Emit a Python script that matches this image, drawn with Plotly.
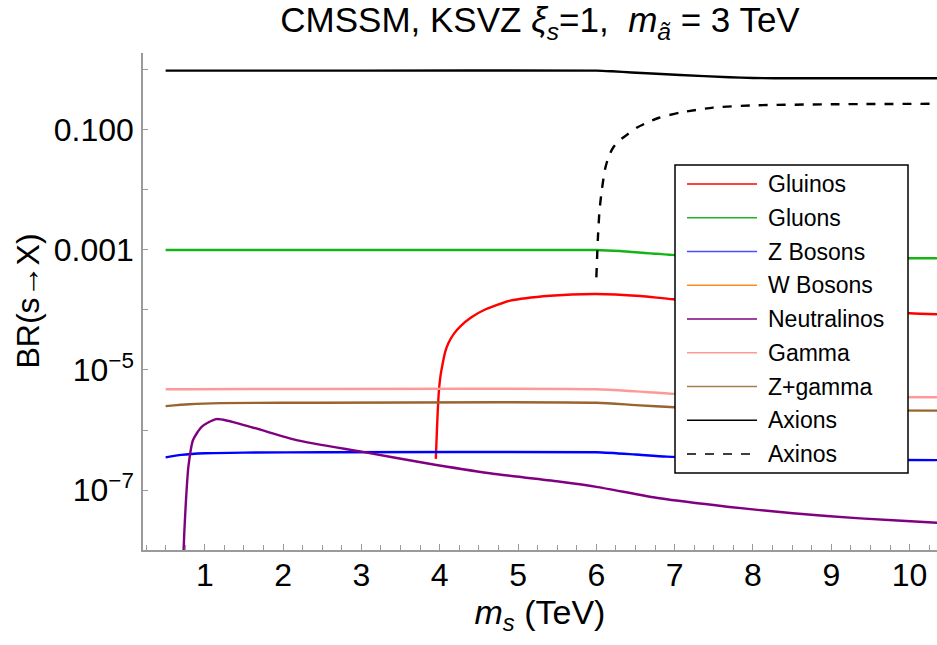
import plotly.graph_objects as go

# ---- series data: m_s (TeV) vs branching ratio ----
axions_x = [0.5, 3.0, 6.0, 6.2, 6.45, 7.07, 7.7, 8.0, 8.5, 10.5]
axions_y = [0.975, 0.975, 0.975, 0.95, 0.91, 0.826, 0.756, 0.735, 0.727, 0.727]

axinos_x = [6.0, 6.02, 6.04, 6.07, 6.11, 6.16, 6.22, 6.3, 6.4, 6.52, 6.66, 6.8, 7.07, 7.49, 8.0, 9.0, 10.5]
axinos_y = [3.5e-4, 1.6e-3, 4.5e-3, 0.01, 0.022, 0.037, 0.052, 0.068, 0.085, 0.11, 0.135, 0.16, 0.195, 0.236,
            0.257, 0.268, 0.274]

gluons_x = [0.5, 6.0, 6.3, 6.96, 8.0, 9.0, 9.93, 10.5]
gluons_y = [1.0e-3, 1.0e-3, 9.6e-4, 8.3e-4, 7.7e-4, 7.4e-4, 7.3e-4, 7.3e-4]

gluinos_x = [3.95, 3.97, 3.99, 4.01, 4.03, 4.07, 4.11, 4.18, 4.26, 4.4, 4.58, 4.9, 5.41, 6.0, 6.56, 6.98, 8.0, 9.0, 10.0, 10.5]
gluinos_y = [3.3e-7, 1.5e-6, 4.6e-6, 8e-6, 1.13e-5, 2.0e-5, 2.8e-5, 4.0e-5, 5.3e-5, 7.5e-5, 1.02e-4, 1.43e-4,
             1.73e-4, 1.85e-4, 1.71e-4, 1.51e-4, 1.26e-4, 1.04e-4, 8.8e-5, 8.4e-5]

zbos_x = [0.5, 0.7, 1.0, 1.5, 2.5, 6.0, 6.5, 6.9, 8.0, 9.9, 10.5]
zbos_y = [3.5e-7, 3.85e-7, 4.1e-7, 4.2e-7, 4.25e-7, 4.25e-7, 3.9e-7, 3.6e-7, 3.35e-7, 3.16e-7, 3.15e-7]

gamma_x = [0.5, 6.0, 6.5, 7.0, 8.0, 9.0, 10.5]
gamma_y = [4.77e-6, 4.77e-6, 4.4e-6, 4.0e-6, 3.7e-6, 3.55e-6, 3.5e-6]

zgamma_x = [0.5, 0.8, 1.2, 2.0, 6.0, 6.5, 7.0, 8.0, 9.0, 10.5]
zgamma_y = [2.5e-6, 2.68e-6, 2.8e-6, 2.85e-6, 2.85e-6, 2.6e-6, 2.4e-6, 2.2e-6, 2.12e-6, 2.1e-6]

neutralinos_x = [0.72, 0.738, 0.76, 0.79, 0.85, 0.96, 1.15, 1.58, 2.17, 3.0, 3.83, 4.64, 5.54, 6.0,
                 6.81, 7.67, 8.51, 9.37, 10.35, 10.5]
neutralinos_y = [5e-9, 1.9e-8, 6.8e-8, 2.4e-7, 6.8e-7, 1.13e-6, 1.52e-6, 1.13e-6, 6.8e-7, 4.35e-7, 2.79e-7,
                 1.9e-7, 1.37e-7, 1.13e-7, 7.27e-8, 5.27e-8, 4.09e-8, 3.37e-8, 2.85e-8, 2.8e-8]

# legend entries (W bosons has no curve inside the plotted range)
legend_names = ["Gluinos", "Gluons", "Z Bosons", "W Bosons", "Neutralinos", "Gamma", "Z+gamma", "Axions", "Axinos"]
legend_colors = ["#ff0000", "#1fb31f", "#4d4dff", "#ff8c1a", "#800080", "#ff9999", "#a67c52", "#000000", "#000000"]
legend_dash = ["solid"] * 8 + ["dash"]

y_tickvals = [1, 0.1, 0.01, 0.001, 1e-4, 1e-5, 1e-6, 1e-7]
y_ticktext = ["", "0.100", "", "0.001", "", "10<sup>−5</sup>", "", "10<sup>−7</sup>"]

FONT = "Liberation Sans, Arial, Helvetica, sans-serif"
W, H = 937, 645
L, R, T, B = 143, 0, 53, 95
XR = [0.211, 10.35]
YR = [-8.0, 0.283]

curves = [
    (gluinos_x, gluinos_y, "#ff0000", "solid"),
    (gluons_x, gluons_y, "#14b414", "solid"),
    (zbos_x, zbos_y, "#0000ff", "solid"),
    (neutralinos_x, neutralinos_y, "#800080", "solid"),
    (gamma_x, gamma_y, "#ff9999", "solid"),
    (zgamma_x, zgamma_y, "#99642f", "solid"),
    (axions_x, axions_y, "#000000", "solid"),
    (axinos_x, axinos_y, "#000000", "dash"),
]

fig = go.Figure()
for xs, ys, col, dash in curves:
    fig.add_trace(go.Scatter(
        x=xs, y=ys, mode="lines", showlegend=False,
        line=dict(color=col, width=2.4, dash=dash, shape="spline", smoothing=0.6),
    ))

axis_gray = "#9a9a9a"
fig.update_layout(
    width=W, height=H,
    margin=dict(l=L, r=R, t=T, b=B),
    plot_bgcolor="white", paper_bgcolor="white",
    font=dict(family=FONT, size=32, color="black"),
    title=dict(
        text="CMSSM, KSVZ <i>ξ</i><sub><i>s</i></sub>=1,  <i>m</i><sub><i>ã</i></sub> = 3 TeV",
        x=0.5, xref="paper", y=1 - 20 / H, yref="container", xanchor="center", yanchor="middle",
        font=dict(size=35),
    ),
    xaxis=dict(
        range=XR, showgrid=False, zeroline=False,
        showline=True, linecolor=axis_gray, linewidth=1.5,
        ticks="inside", ticklen=6, tickwidth=1, tickcolor=axis_gray,
        tickmode="linear", tick0=0, dtick=1,
        minor=dict(ticks="inside", ticklen=5, tickcolor=axis_gray, tickmode="linear", tick0=0, dtick=0.25),
        tickfont=dict(size=32), ticklabelstandoff=-4,
        title=dict(text="<i>m</i><sub><i>s</i></sub> (TeV)", font=dict(size=34), standoff=2),
    ),
    xaxis2=dict(
        range=XR, overlaying="x", side="top", anchor="y", showgrid=False, zeroline=False,
        showline=True, linecolor=axis_gray, linewidth=1.5,
        ticks="inside", ticklen=8, tickcolor=axis_gray, showticklabels=False,
        tickmode="linear", tick0=0, dtick=2,
        minor=dict(ticks="inside", ticklen=5, tickcolor=axis_gray, tickmode="linear", tick0=0, dtick=0.5),
    ),
    yaxis=dict(
        type="log", range=YR, showgrid=False, zeroline=False,
        showline=True, linecolor=axis_gray, linewidth=1.5,
        ticks="inside", ticklen=5, tickcolor=axis_gray,
        tickmode="array", tickvals=y_tickvals, ticktext=y_ticktext,
        tickfont=dict(size=32), ticklabelstandoff=1,
    ),
)

# y-axis label
fig.add_annotation(
    text="BR(s→X)", textangle=-90, showarrow=False,
    xref="paper", yref="paper", x=(27 - L) / (W - L - R), y=0.5,
    xanchor="center", yanchor="middle", font=dict(size=32),
)

# legend box drawn in pixel geometry converted to paper coordinates
pw, ph = W - L - R, H - T - B


def px(xp):
    return (xp - L) / pw


def py(yp):
    return (H - B - yp) / ph


box_l, box_t, box_r, box_b = 675, 165, 908, 473
fig.add_shape(type="rect", xref="paper", yref="paper",
              x0=px(box_l), x1=px(box_r), y0=py(box_b), y1=py(box_t),
              line=dict(color="black", width=1.5), fillcolor="white", layer="above")
row0, drow = 184, 33.75
for i, (name, col, dash) in enumerate(zip(legend_names, legend_colors, legend_dash)):
    yc = row0 + i * drow
    fig.add_shape(type="line", xref="paper", yref="paper",
                  x0=px(687), x1=px(757), y0=py(yc), y1=py(yc),
                  line=dict(color=col, width=1.6, dash=dash), layer="above")
    fig.add_annotation(text=name, showarrow=False, xref="paper", yref="paper",
                       x=px(766), y=py(yc), xanchor="left", yanchor="middle",
                       font=dict(size=23))

fig.write_html("out.html")
